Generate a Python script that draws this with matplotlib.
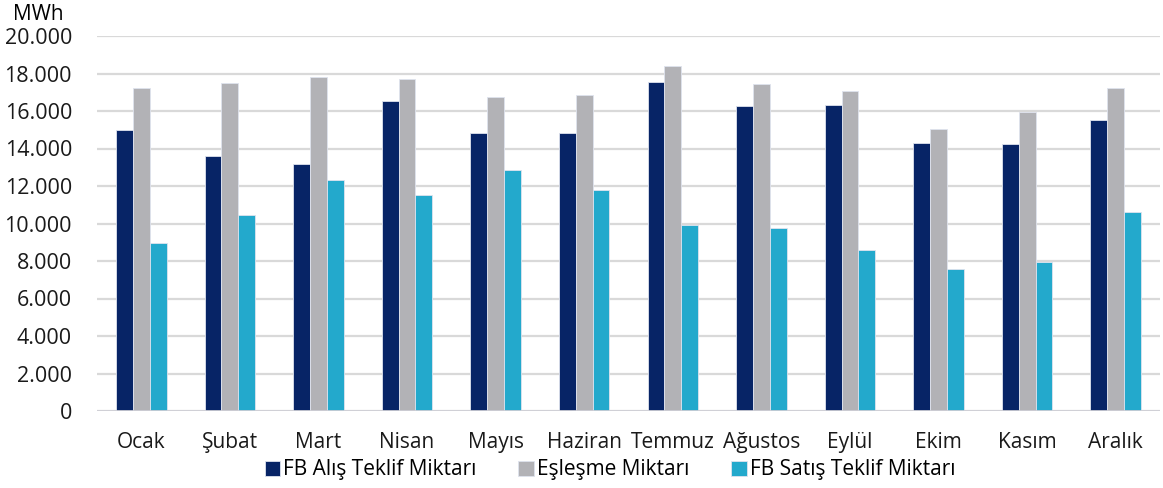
import matplotlib
matplotlib.use("Agg")
import matplotlib.pyplot as plt
import numpy as np

plt.rcParams["font.family"] = ["Open Sans", "DejaVu Sans"]

months = ["Ocak", "Şubat", "Mart", "Nisan", "Mayıs", "Haziran",
          "Temmuz", "Ağustos", "Eylül", "Ekim", "Kasım", "Aralık"]
alis = [15000, 13600, 13170, 16530, 14830, 14830,
        17560, 16280, 16320, 14280, 14240, 15520]
eslesme = [17230, 17490, 17810, 17710, 16750, 16850,
           18420, 17460, 17080, 15060, 15950, 17230]
satis = [8960, 10450, 12320, 11520, 12850, 11790,
         9920, 9760, 8590, 7570, 7950, 10610]
series_names = ["FB Alış Teklif Miktarı", "Eşleşme Miktarı", "FB Satış Teklif Miktarı"]
colors = ["#072466", "#b2b2b6", "#23a9cc"]
yticks = np.arange(0, 20001, 2000)

fig = plt.figure(figsize=(11.63, 4.88), dpi=100)
ax = fig.add_axes([97 / 1163, 1 - 411 / 488, (1160 - 97) / 1163, (411 - 36) / 488])

x = np.arange(len(months))
w = 0.19
for k, (vals, name, c) in enumerate(zip([alis, eslesme, satis], series_names, colors)):
    ax.bar(x + (k - 1) * w, vals, width=w, color=c, label=name,
           edgecolor="#dfe3ee", linewidth=0.6, zorder=3)

ax.set_xlim(-0.5, len(months) - 0.5)
ax.set_ylim(0, 20000)
ax.set_yticks(yticks)
ax.set_yticklabels([f"{v:,}".replace(",", ".") for v in yticks], fontsize=15.5)
ax.set_xticks(x)
ax.set_xticklabels(months, fontsize=15)
ax.tick_params(axis="both", length=0, colors="#1a1a1a")
ax.tick_params(axis="x", pad=15)
ax.tick_params(axis="y", pad=18)
ax.grid(True, axis="y", color="#d9d9d9", linewidth=1.6, zorder=0)
ax.axhline(0, color="#cfcfd6", linewidth=2, zorder=4)
for s in ax.spines.values():
    s.set_visible(False)

fig.text(13 / 1163, 1 - 14 / 488, "MWh", fontsize=15, va="center", ha="left")

leg = fig.legend(loc="center", bbox_to_anchor=(610 / 1163, 1 - 470 / 488), ncol=3,
                 frameon=False, fontsize=15, handlelength=0.75, handleheight=0.75,
                 handletextpad=0.15, columnspacing=2.0)

fig.savefig("out.png", dpi=100)
